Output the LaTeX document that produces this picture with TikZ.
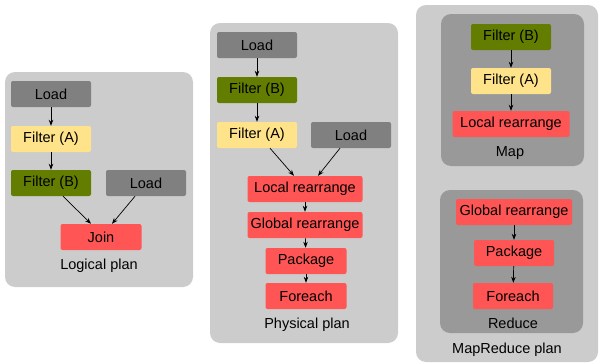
\documentclass[tikz,border=0pt]{standalone}
\usepackage{fontspec}
\setmainfont{Liberation Sans}
\usetikzlibrary{arrows.meta}
\definecolor{panelc}{HTML}{CCCCCC}
\definecolor{subc}{HTML}{999999}
\definecolor{loadc}{HTML}{808080}
\definecolor{fac}{HTML}{FFE38A}
\definecolor{fbc}{HTML}{637D00}
\definecolor{redc}{HTML}{FF5555}
\tikzset{
  box/.style={rounded corners=2pt, minimum height=26pt, inner sep=0pt, font=\fontsize{14.5}{16}\selectfont, text=black},
  loadbox/.style={box, fill=loadc, minimum width=80pt},
  fabox/.style={box, fill=fac, minimum width=80pt},
  fbbox/.style={box, fill=fbc, minimum width=80pt},
  redbox/.style={box, fill=redc},
  panel/.style={fill=panelc, rounded corners=10pt},
  subpanel/.style={fill=subc, rounded corners=10pt},
  lbl/.style={font=\fontsize{14.5}{16}\selectfont, text=black, inner sep=0pt},
  arr/.style={-{Stealth[length=6pt,width=4.5pt]}, line width=0.7pt, black}
}
\begin{document}
\begin{tikzpicture}[x=1pt,y=-1pt]
\useasboundingbox (0,0) rectangle (600,364);
% panels
\fill[panel] (5,72) rectangle (193,287);
\fill[panel] (210,23) rectangle (398,343);
\fill[panel] (416,5) rectangle (598,362);
\fill[subpanel] (441,14) rectangle (584,166);
\fill[subpanel] (440,190) rectangle (583,333);
% logical plan
\node[loadbox] (l1) at (51,94) {Load};
\node[fabox] (la) at (51,139) {Filter (A)};
\node[fbbox] (lb) at (51,183) {Filter (B)};
\node[loadbox] (l2) at (146,183) {Load};
\node[redbox, minimum width=81pt] (lj) at (101,237) {Join};
\node[lbl] (llab) at (99,266) {Logical plan};
\draw[arr] (l1) -- (la);
\draw[arr] (la) -- (lb);
\draw[arr] ([xshift=12pt]lb.south) -- ([xshift=-10pt]lj.north);
\draw[arr] ([xshift=-11pt]l2.south) -- ([xshift=11pt]lj.north);
% physical plan
\node[loadbox] (p1) at (257,45) {Load};
\node[fbbox] (pb) at (257,90) {Filter (B)};
\node[fabox] (pa) at (257,135) {Filter (A)};
\node[loadbox] (p2) at (351,135) {Load};
\node[redbox, minimum width=115pt] (plr) at (305,189) {Local rearrange};
\node[redbox, minimum width=115pt] (pgr) at (305,225) {Global rearrange};
\node[redbox, minimum width=81pt] (ppk) at (306,261) {Package};
\node[redbox, minimum width=81pt] (pfe) at (306,296) {Foreach};
\node[lbl] (plab) at (307,325) {Physical plan};
\draw[arr] (p1) -- (pb);
\draw[arr] (pb) -- (pa);
\draw[arr] ([xshift=13pt]pa.south) -- ([xshift=-11pt]plr.north);
\draw[arr] ([xshift=-11pt]p2.south) -- ([xshift=13pt]plr.north);
\draw[arr] (plr) -- (pgr);
\draw[arr] (pgr) -- (ppk);
\draw[arr] (ppk) -- (pfe);
% mapreduce plan
\node[fbbox] (mb) at (511,37) {Filter (B)};
\node[fabox] (ma) at (511,81) {Filter (A)};
\node[redbox, minimum width=117pt] (mlr) at (511,124) {Local rearrange};
\node[lbl] (mlab) at (510,153) {Map};
\node[redbox, minimum width=116pt] (rgr) at (514,212) {Global rearrange};
\node[redbox, minimum width=80pt] (rpk) at (514,253) {Package};
\node[redbox, minimum width=80pt] (rfe) at (513,296) {Foreach};
\node[lbl] (rlab) at (513,323) {Reduce};
\node[lbl] (mrlab) at (507,350) {MapReduce plan};
\draw[arr] (mb) -- (ma);
\draw[arr] (ma) -- (mlr);
\draw[arr] (rgr.south -| rpk.north) -- (rpk);
\draw[arr] (rpk) -- (rfe);
\end{tikzpicture}
\end{document}
